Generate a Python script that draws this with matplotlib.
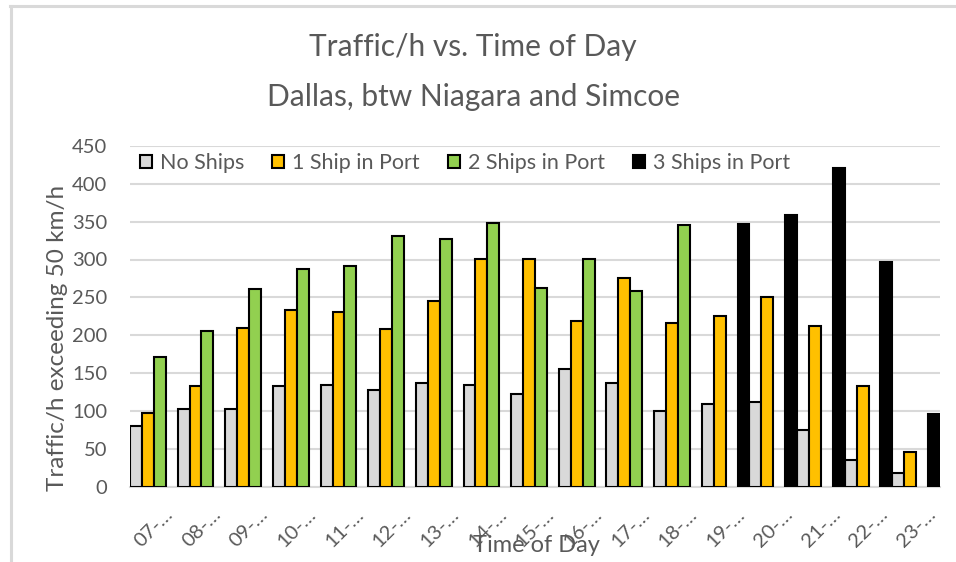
import numpy as np
import matplotlib
matplotlib.use("Agg")
import matplotlib.pyplot as plt
from matplotlib.lines import Line2D

plt.rcParams['font.family'] = ['Lato', 'DejaVu Sans']

# data
hours = ["07", "08", "09", "10", "11", "12", "13", "14", "15", "16",
         "17", "18", "19", "20", "21", "22", "23"]
no_ships = [81, 103, 103, 133, 135, 128, 138, 135, 123, 156,
            137, 101, 110, 112, 75, 36, 19]
one_ship = [98, 133, 210, 234, 231, 208, 245, 301, 301, 219,
            275, 217, 226, 250, 212, 133, 47]
two_ships = [171, 206, 261, 287, 291, 331, 327, 348, 262, 301,
             259, 345, None, None, None, None, None]
three_ships = [None, None, None, None, None, None, None, None, None, None,
               None, None, 347, 358, 421, 297, 96]

series_names = ["No Ships", "1 Ship in Port", "2 Ships in Port", "3 Ships in Port"]
series_colors = ["#D9D9D9", "#FFC000", "#92D050", "#000000"]
txt = "#595959"

fig = plt.figure(figsize=(9.56, 5.62), dpi=100)
ax = fig.add_axes([130/956, 1 - 487.3/562, 810/956, 341.7/562])

x = np.arange(len(hours))
w = 0.25
all_series = [no_ships, one_ship, two_ships, three_ships]
for i, (vals, name, col) in enumerate(zip(all_series, series_names, series_colors)):
    xs = [xi for xi, v in zip(x, vals) if v is not None]
    hs = [v for v in vals if v is not None]
    ax.bar(np.array(xs) + (i - 1.5) * w, hs, width=w, color=col,
           edgecolor="black", linewidth=1.5, label=name, zorder=3)

ax.set_xlim(-0.5, len(hours) - 0.5)
ax.set_ylim(0, 450)
ax.set_yticks(np.arange(0, 451, 50))
ax.set_xticks(x)
ax.set_xticklabels([h + "-\u2026" for h in hours], rotation=45,
                   ha="center", va="top")
ax.tick_params(axis="both", length=0, labelsize=14.5, labelcolor=txt)
ax.tick_params(axis="y", pad=16.5)
ax.tick_params(axis="x", pad=13)

ax.grid(axis="y", color="#D9D9D9", linewidth=1.5, zorder=0)
for s in ["top", "right", "left"]:
    ax.spines[s].set_visible(False)
ax.spines["bottom"].set_color("#D9D9D9")
ax.spines["bottom"].set_linewidth(1.5)

ax.set_ylabel("Traffic/h exceeding 50 km/h", fontsize=17.5, color=txt,
              va="center")
ax.yaxis.set_label_coords((58 - 130) / 810, (487.3 - 338) / 341.7)
ax.set_xlabel("Time of Day", fontsize=17, color=txt, va="center")
ax.xaxis.set_label_coords((536 - 130) / 810, (487.3 - 545) / 341.7)

ax.legend(loc="center left", bbox_to_anchor=((140 - 130) / 810, 0.949),
          ncol=4, frameon=False, fontsize=15.5, labelcolor=txt,
          handlelength=0.56, handleheight=0.56, handletextpad=0.37,
          columnspacing=1.3, borderpad=0, borderaxespad=0)

fig.text(0.495, 1 - 47/562, "Traffic/h vs. Time of Day", ha="center",
         va="center", fontsize=21.5, color=txt)
fig.text(0.495, 1 - 97/562, "Dallas, btw Niagara and Simcoe", ha="center",
         va="center", fontsize=21.5, color=txt)

# light border of the chart area
fig.add_artist(Line2D([10/956, 1], [1 - 6/562, 1 - 6/562], color="#D9D9D9",
                      linewidth=2.2, transform=fig.transFigure))
fig.add_artist(Line2D([10.5/956, 10.5/956], [0, 1 - 6/562], color="#D9D9D9",
                      linewidth=2.2, transform=fig.transFigure))

fig.savefig("out.png", dpi=100)
